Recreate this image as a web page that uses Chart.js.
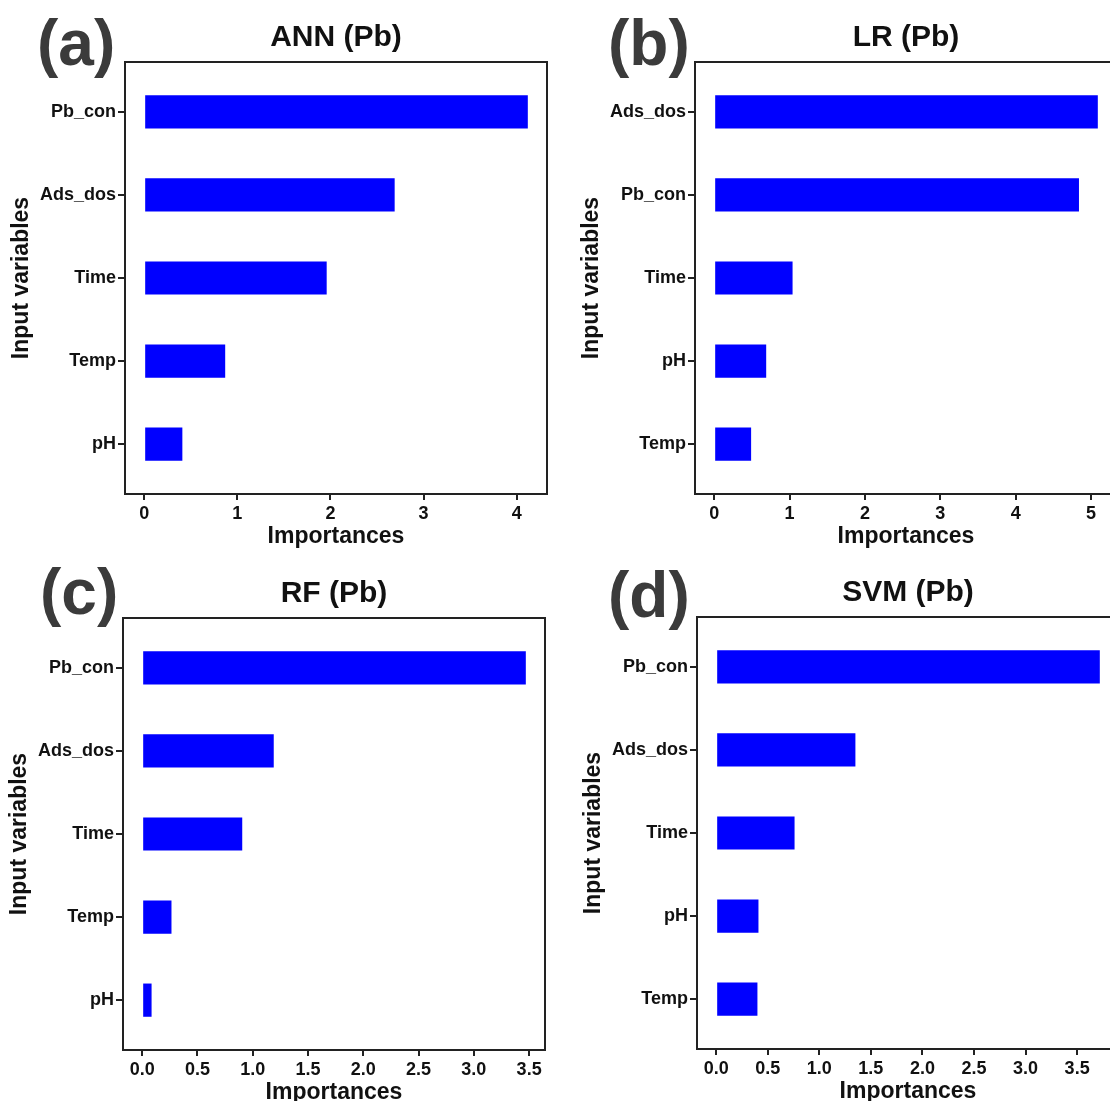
<!DOCTYPE html>
<html>
<head>
<meta charset="utf-8">
<title>Input variable importances (Pb)</title>
<script src="https://cdn.jsdelivr.net/npm/chart.js@4.4.1/dist/chart.umd.min.js"></script>
<style>
  html, body { margin: 0; padding: 0; background: #fff; }
  body { position: relative; width: 1110px; height: 1101px; overflow: hidden; font-family: "Liberation Sans", Arial, sans-serif; }
  .panel { position: absolute; width: 555px; height: 555px; }
  .panel canvas { position: absolute; left: 0; top: 0; }
  .tag { position: absolute; font-weight: 700; font-size: 64px; line-height: 1; color: #3b3b3b; }
</style>
</head>
<body>
<div class="panel" style="left:0;top:0"><canvas id="chartA" width="555" height="555"></canvas></div>
<div class="panel" style="left:570px;top:0"><canvas id="chartB" width="555" height="555"></canvas></div>
<div class="panel" style="left:-2px;top:556px"><canvas id="chartC" width="555" height="555"></canvas></div>
<div class="panel" style="left:572px;top:555px"><canvas id="chartD" width="555" height="555"></canvas></div>
<div class="tag" style="left:37px;top:11px">(a)</div>
<div class="tag" style="left:608px;top:11px">(b)</div>
<div class="tag" style="left:40px;top:560px">(c)</div>
<div class="tag" style="left:608px;top:563px">(d)</div>
<script>
const annLabels = ["Pb_con", "Ads_dos", "Time", "Temp", "pH"];
const annValues = [4.12, 2.69, 1.96, 0.87, 0.41];

const lrLabels = ["Ads_dos", "Pb_con", "Time", "pH", "Temp"];
const lrValues = [5.09, 4.84, 1.04, 0.69, 0.49];

const rfLabels = ["Pb_con", "Ads_dos", "Time", "Temp", "pH"];
const rfValues = [3.47, 1.19, 0.905, 0.265, 0.085];

const svmLabels = ["Pb_con", "Ads_dos", "Time", "pH", "Temp"];
const svmValues = [3.72, 1.35, 0.76, 0.41, 0.40];

const ticksToFour = [0, 1, 2, 3, 4];
const ticksToFive = [0, 1, 2, 3, 4, 5];
const halfTicks = [0, 0.5, 1, 1.5, 2, 2.5, 3, 3.5];

const fontFamily = "\"Liberation Sans\", Arial, sans-serif";
const inkColor = "#111111";
const frameColor = "#222222";

Chart.defaults.font.family = fontFamily;

// box round the plot area (top and right sides have no axis)
const framePlugin = {
  id: "frame",
  afterDraw(chart) {
    const { ctx, chartArea } = chart;
    ctx.save();
    ctx.strokeStyle = frameColor;
    ctx.lineWidth = 2;
    ctx.strokeRect(chartArea.left, chartArea.top, chartArea.right - chartArea.left, chartArea.bottom - chartArea.top);
    ctx.restore();
  }
};

function makeChart(canvasId, titleText, labels, values, xTicks, digits) {
  const maxValue = Math.max(...values);

  new Chart(document.getElementById(canvasId), {
    type: "bar",
    data: {
      datasets: [
        {
          data: values.map((value, index) => ({ x: value, y: index })),
          backgroundColor: "#0000ff",
          borderWidth: 0,
          categoryPercentage: 1,
          barPercentage: 0.4
        }
      ]
    },
    options: {
      indexAxis: "y",
      responsive: false,
      animation: false,
      events: [],
      layout: {
        padding: { left: 0, right: 8, top: 0, bottom: 0 }
      },
      plugins: {
        legend: { display: false },
        tooltip: { enabled: false },
        title: {
          display: true,
          text: titleText,
          fullSize: false,
          color: inkColor,
          font: { size: 30, weight: "bold" },
          padding: { top: 19.5, bottom: 6.5 }
        }
      },
      scales: {
        x: {
          type: "linear",
          min: -0.05 * maxValue,
          max: 1.05 * maxValue,
          afterBuildTicks(scale) {
            scale.ticks = xTicks.map((value) => ({ value }));
          },
          afterFit(scale) {
            scale.height = 61;
          },
          grid: {
            drawOnChartArea: false,
            tickLength: 6,
            color: frameColor,
            lineWidth: 2
          },
          border: { display: false },
          ticks: {
            color: inkColor,
            padding: 3,
            maxRotation: 0,
            font: { size: 18, weight: "bold" },
            callback(value) {
              return Number(value).toFixed(digits);
            }
          },
          title: {
            display: true,
            text: "Importances",
            color: inkColor,
            font: { size: 23, weight: "bold" },
            padding: { top: 0, bottom: 5 }
          }
        },
        y: {
          type: "linear",
          reverse: true,
          offset: false,
          min: -0.6,
          max: labels.length - 0.4,
          afterBuildTicks(scale) {
            scale.ticks = labels.map((label, index) => ({ value: index }));
          },
          afterFit(scale) {
            scale.width = 125;
          },
          grid: {
            offset: false,
            drawOnChartArea: false,
            tickLength: 7,
            color: frameColor,
            lineWidth: 2
          },
          border: { display: false },
          ticks: {
            color: inkColor,
            padding: 2,
            font: { size: 18, weight: "bold" },
            callback(value) {
              return labels[value];
            }
          },
          title: {
            display: true,
            text: "Input variables",
            color: inkColor,
            font: { size: 23, weight: "bold" },
            padding: { top: 8, bottom: 0 }
          }
        }
      }
    },
    plugins: [framePlugin]
  });
}

makeChart("chartA", "ANN (Pb)", annLabels, annValues, ticksToFour, 0);
makeChart("chartB", "LR (Pb)", lrLabels, lrValues, ticksToFive, 0);
makeChart("chartC", "RF (Pb)", rfLabels, rfValues, halfTicks, 1);
makeChart("chartD", "SVM (Pb)", svmLabels, svmValues, halfTicks, 1);
</script>
</body>
</html>
